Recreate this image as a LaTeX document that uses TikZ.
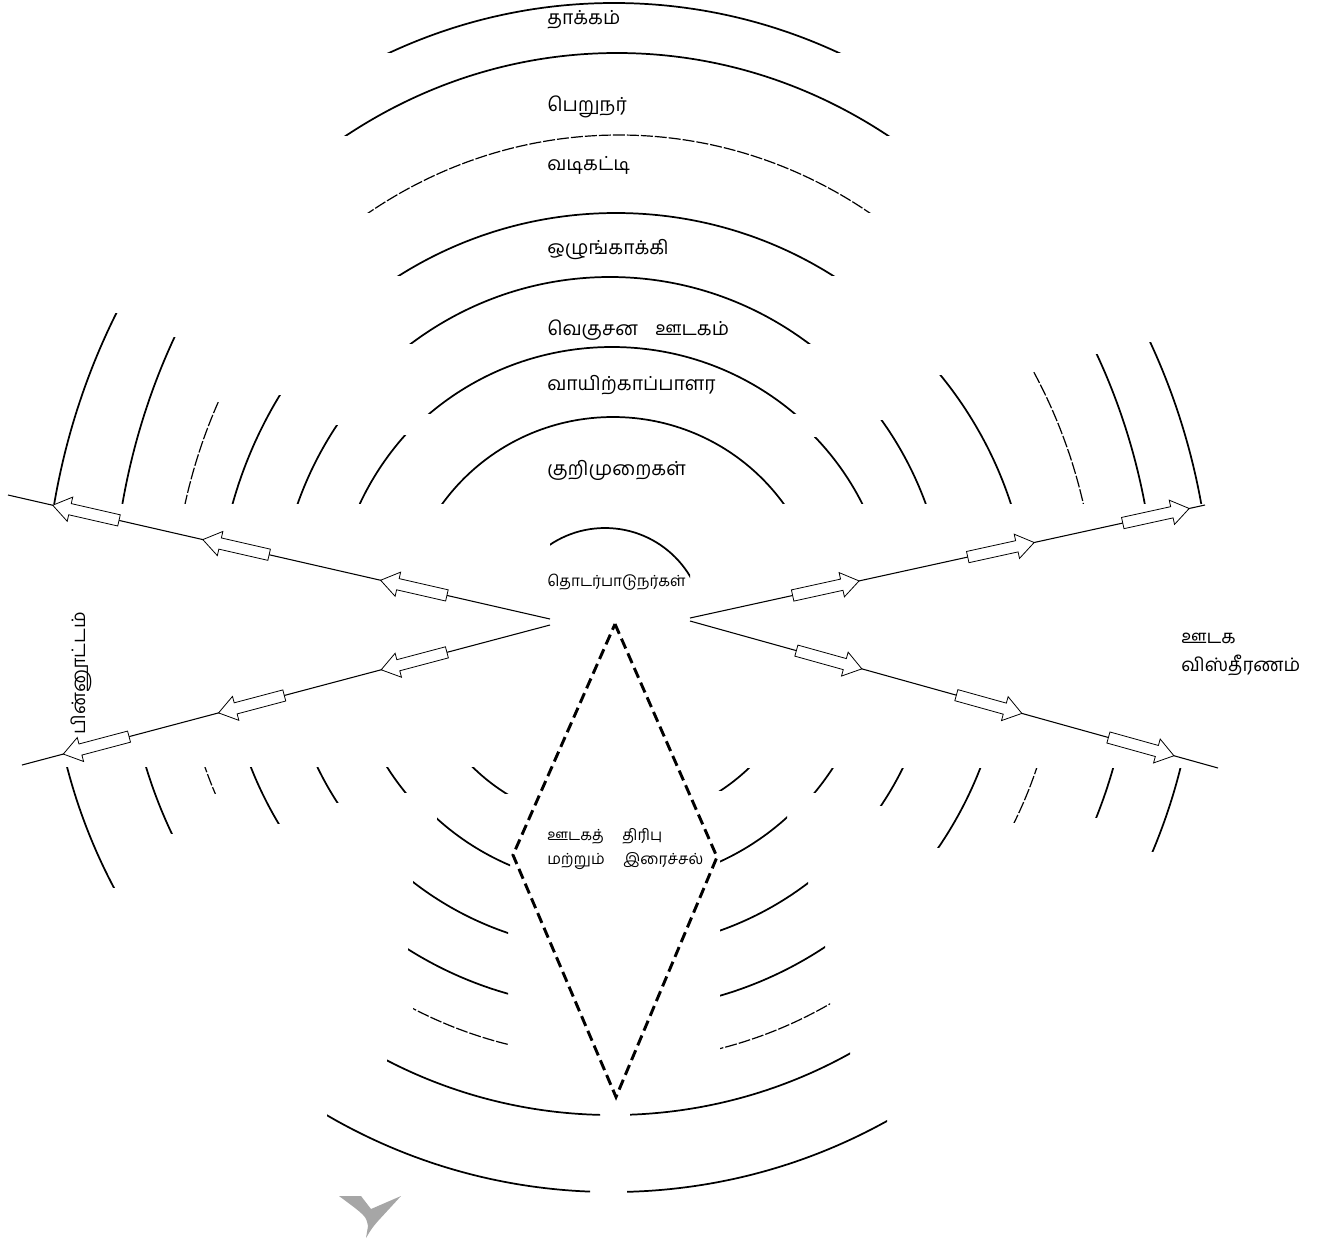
\documentclass[tikz,border=0pt]{standalone}
\usepackage{fontspec}
\newfontfamily\tamil[Script=Tamil]{Hind Madurai}
\usetikzlibrary{shapes.arrows}
% ringseg[style]{center}{x radius}{y radius}{clip corner 1}{clip corner 2}
\newcommand\ringseg[6][]{%
  \begin{scope}
    \clip (#5) rectangle (#6);
    \draw[ringline,#1] (#2) ellipse [x radius=#3, y radius=#4];
  \end{scope}}
\begin{document}
\begin{tikzpicture}[x=0.75pt,y=-0.75pt,
  ringline/.style={line width=1.3pt, black},
  faint/.style={line width=0.9pt, dash pattern=on 9pt off 1.5pt},
  fbline/.style={line width=0.8pt},
  dia/.style={line width=2.2pt, dash pattern=on 8pt off 4pt},
  harrow/.style={single arrow, draw, fill=white, line width=0.6pt,
    minimum height=51pt, inner xsep=0pt, inner ysep=4pt,
    text height=0pt, text depth=0pt,
    single arrow head extend=5pt,
    single arrow tip angle=70, sloped, allow upside down},
  lbl/.style={font=\tamil\fontsize{14.5}{17}\selectfont, anchor=west, inner sep=0pt},
  slbl/.style={font=\tamil\fontsize{11.5}{14}\selectfont, anchor=west, inner sep=0pt},
  mlbl/.style={font=\tamil\fontsize{14}{17}\selectfont, anchor=west, inner sep=0pt}
]
\useasboundingbox (0,0) rectangle (1337,1240);

% ---------- top arcs ----------
\ringseg{614,625}{572}{622}{300,-10}{950,52}
\ringseg{617,625}{523}{572}{300,-10}{950,135}
\ringseg[faint]{619,625}{463}{490}{300,-10}{950,212}
\ringseg{616,625}{409}{412}{300,-10}{950,275}
\ringseg{610,625}{338}{348}{300,-10}{950,343}
\ringseg{612,625}{281}{278}{300,-10}{950,413}
\ringseg{613,625}{210}{208}{400,380}{830,503}
\ringseg{605,627}{99}{99}{550,500}{690,590}

% ---------- upper left ----------
\ringseg{612,625}{568}{638}{40,313}{140,503}
\ringseg{612,625}{500}{594}{110,337}{190,503}
\ringseg[faint]{612,625}{440}{499}{175,402}{230,503}
\ringseg{612,625}{396}{422}{220,395}{295,503}
\ringseg{612,625}{335}{350}{285,425}{350,503}
\ringseg{612,625}{279}{283}{350,435}{420,503}

% ---------- upper right ----------
\ringseg{612,625}{279}{274}{805,437}{875,503}
\ringseg{612,625}{335}{345}{870,420}{940,503}
\ringseg{612,625}{418}{404}{930,375}{1020,503}
\ringseg[faint]{612,625}{485}{512}{1020,371}{1095,503}
\ringseg{612,625}{544}{596}{1085,354}{1155,503}
\ringseg{612,625}{600}{639}{1140,342}{1212,503}

% ---------- lower left ----------
\ringseg{612,625}{563}{563}{60,767}{130,887}
\ringseg{612,625}{487}{487}{135,767}{185,833}
\ringseg[faint]{612,625}{431}{431}{195,767}{228,793}
\ringseg{612,625}{388}{388}{240,767}{292,823}
\ringseg{612,625}{327}{327}{305,767}{348,802}
\ringseg{612,625}{266}{266}{375,767}{415,792}
\ringseg{612,625}{199}{199}{460,767}{518,793}

% ---------- lower right ----------
\ringseg{612,625}{198}{198}{710,768}{760,790}
\ringseg{612,625}{263}{263}{805,768}{845,792}
\ringseg{612,625}{324}{324}{870,768}{912,805}
\ringseg{612,625}{395}{395}{925,768}{995,847}
\ringseg[faint]{612,625}{448}{448}{1000,768}{1050,822}
\ringseg{612,625}{521}{521}{1085,768}{1125,817}
\ringseg{612,625}{586}{586}{1140,768}{1195,851}

% ---------- bowls beside the diamond ----------
\ringseg{612,625}{261}{261}{437,815}{510,870}
\ringseg{612,625}{325}{325}{413,875}{508,940}
\ringseg{612,625}{383}{383}{408,940}{508,1000}
\ringseg[faint]{612,625}{432}{432}{413,1000}{508,1050}
\ringseg{612,625}{260}{260}{720,815}{787,870}
\ringseg{612,625}{324}{324}{720,875}{808,940}
\ringseg{612,625}{386}{386}{720,940}{825,1000}
\ringseg[faint]{612,625}{437}{437}{720,1000}{830,1050}
\ringseg{612,625}{490}{490}{387,1050}{600,1125}
\ringseg{612,625}{490}{490}{630,1050}{850,1125}
\ringseg{612,625}{567}{567}{327,1110}{590,1200}
\ringseg{612,625}{567}{567}{627,1110}{887,1200}

% ---------- labels ----------
\node[lbl] (t1) at (547,20) {தாக்கம்};
\node[lbl] (t2) at (547,107) {பெறுநர்};
\node[lbl] (t3) at (547,165) {வடிகட்டி};
\node[lbl] (t4) at (547,250) {ஒழுங்காக்கி};
\node[lbl] (t5) at (547,330) {வெகுசன\hspace{13pt}ஊடகம்};
\node[lbl] (t6) at (547,385) {வாயிற்காப்பாளர};
\node[lbl] (t7) at (547,470) {குறிமுறைகள்};
\node[slbl] (comm) at (547,582) {தொடர்பாடுநர்கள்};
\node[slbl] (noise1) at (547,836) {ஊடகத்\hspace{14pt}திரிபு};
\node[slbl] (noise2) at (547,861) {மற்றும்\hspace{14pt}இரைச்சல்};
\node[mlbl, anchor=center, rotate=90] (fbk) at (81,673) {பின்னூட்டம்};
\node[mlbl] (ext1) at (1181,638) {ஊடக};
\node[mlbl] (ext2) at (1181,665) {விஸ்தீரணம்};

% ---------- diamond ----------
\coordinate (dT) at (615,624);
\coordinate (dR) at (717,857);
\coordinate (dB) at (616,1097);
\coordinate (dL) at (513,855);
\draw[dia] (dT) -- (dR) -- (dB) -- (dL) -- cycle;

% ---------- feedback / extension lines ----------
\coordinate (uLs) at (550,619);
\coordinate (uLe) at (8,495);
\coordinate (lLs) at (550,625);
\coordinate (lLe) at (22,765);
\coordinate (uRs) at (690,618);
\coordinate (uRe) at (1205,505);
\coordinate (lRs) at (690,621);
\coordinate (lRe) at (1218,768);

\draw[fbline] (uLs) -- (uLe)
  node[harrow,pos=0.244] (aul1) {}
  node[harrow,pos=0.572] (aul2) {}
  node[harrow,pos=0.849] (aul3) {};
\draw[fbline] (lLs) -- (lLe)
  node[harrow,pos=0.25] (all1) {}
  node[harrow,pos=0.558] (all2) {}
  node[harrow,pos=0.852] (all3) {};
\draw[fbline] (uRs) -- (uRe)
  node[harrow,pos=0.256] (aur1) {}
  node[harrow,pos=0.596] (aur2) {}
  node[harrow,pos=0.897] (aur3) {};
\draw[fbline] (lRs) -- (lRe)
  node[harrow,pos=0.256] (alr1) {}
  node[harrow,pos=0.559] (alr2) {}
  node[harrow,pos=0.847] (alr3) {};

% ---------- grey mark ----------
\fill[black!35] (339,1196) -- (361,1196) -- (371,1209) -- (401,1196)
  -- (378,1221) .. controls (372,1228) .. (366,1238)
  -- (368,1226) .. controls (366,1216) .. (339,1196) -- cycle;
\end{tikzpicture}
\end{document}
